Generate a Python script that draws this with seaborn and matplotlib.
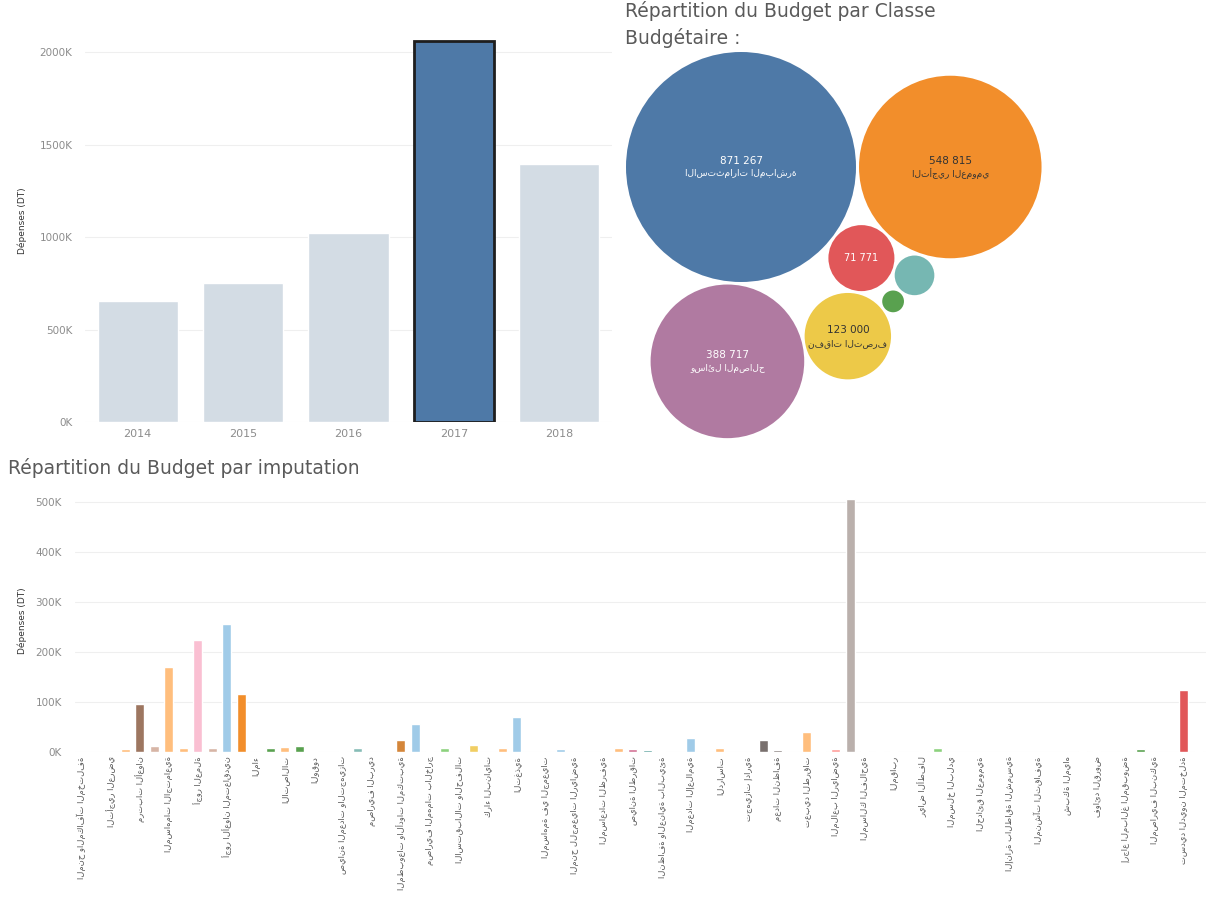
import numpy as np
import pandas as pd
import seaborn as sns
import matplotlib
matplotlib.use("Agg")
from matplotlib import pyplot as plt
from itertools import combinations

# --- data -------------------------------------------------------------
annees = ["2014", "2015", "2016", "2017", "2018"]
depenses_annee = [654000, 751000, 1022000, 2062000, 1393000]
annee_selection = "2017"

classes = ["الاستثمارات المباشرة", "التأجير العمومي", "وسائل المصالح", "نفقات التصرف",
           "فوائد الدين", "التدخل العمومي", "نفقات التنمية"]
montants_classe = [871267, 548815, 388717, 123000, 71771, 25900, 7800]

imputations = [
    "المنح والمكافآت المختلفة", "منح الإنتاج", "التأجير العرضي", "الأجور والمنح للقارين",
    "مرتبات الأعوان", "منح التنقل", "المساهمات الاجتماعية", "منح الساعات الإضافية",
    "أجور العملة", "منح الكلفة", "أجور الأعوان المتعاقدين", "التأجير العمومي للأعوان",
    "الماء", "الكهرباء والغاز", "الاتصالات", "الإعلامية", "الوقود", "اقتناء الأثاث",
    "صيانة المعدات والتجهيزات", "صيانة البنايات", "مصاريف البريد", "الإشهار والإعلانات",
    "المطبوعات والأدوات المكتبية", "الملابس المهنية", "مصاريف المهمات بالخارج", "مصاريف التكوين",
    "الاستقبالات والحفلات", "التأمين على السيارات", "كراء البنايات", "مصاريف التقاضي",
    "التغذية", "المعدات الطبية", "المساهمة في الجمعيات", "التدخلات الاجتماعية",
    "المنح للجمعيات الرياضية", "منح الطلبة", "المساعدات الظرفية", "مساهمة في ميزانية المؤسسات",
    "صيانة الطرقات", "التنوير العمومي", "النظافة والعناية بالبيئة", "المناطق الخضراء",
    "المعدات الإعلامية", "البرمجيات", "الدراسات", "التهيئة", "تجهيزات إدارية", "وسائل النقل",
    "معدات النظافة", "بناء مقرات إدارية", "تعبيد الطرقات", "شبكات التطهير", "الملاعب الرياضية",
    "مشاريع التنمية المحلية", "المسالك الفلاحية", "الأسواق البلدية", "المقابر", "دور الشباب",
    "رياض الأطفال", "المكتبات العمومية", "المسلخ البلدي", "المستودع البلدي", "الحدائق العمومية",
    "الأرصفة", "الإنارة بالطاقة الشمسية", "تهذيب الأحياء الشعبية", "المنشآت الثقافية",
    "المنشآت الرياضية", "شبكة المياه", "التجهيزات الجماعية", "فوائد القروض", "أقساط القروض",
    "إرجاع المبالغ المقبوضة", "النفقات الطارئة", "المصاريف البنكية", "مصاريف التسجيل",
    "تسديد الديون المتخلدة", "نفقات مختلفة",
]
depenses_imputation = [
    1000, 500, 1000, 6000, 96000, 12000, 170000, 9000, 224000, 9000,
    256000, 116000, 1000, 8000, 10000, 12000, 2000, 1000, 2000, 9000,
    1000, 2000, 25000, 56000, 3000, 8000, 1500, 15000, 1000, 9000,
    70000, 300, 300, 7000, 300, 300, 300, 9000, 6000, 5000,
    2000, 300, 28000, 500, 8000, 300, 500, 24000, 5000, 500,
    41000, 1500, 6000, 506000, 3000, 1500, 1500, 500, 2000, 9000,
    300, 500, 300, 1000, 1000, 300, 300, 500, 300, 3000,
    1500, 300, 300, 7000, 300, 500, 124000, 2000,
]

# --- styles -------------------------------------------------------------
W, H = 1216, 909
GRIS = "#8C8C8C"
TITRE = "#5A5A5A"
couleurs_classe = ["#4E79A7", "#F28E2B", "#B07AA1", "#EDC948", "#E15759", "#76B7B2", "#59A14F"]
texte_classe = ["white", "#333333", "white", "#333333", "white", "white", "white"]
couleurs_imputation = [
    "#BAB0AC", "#D7B5A6", "#FFBE7D", "#FFBE7D", "#9D7660", "#D7B5A6", "#FFBE7D", "#FFBE7D", "#FABFD2", "#D7B5A6",
    "#A0CBE8", "#F28E2B", "#8CD17D", "#59A14F", "#FFBE7D", "#59A14F", "#BAB0AC", "#BAB0AC", "#A0CBE8", "#86BCB6",
    "#FABFD2", "#BAB0AC", "#D4863A", "#A0CBE8", "#8CD17D", "#8CD17D", "#BAB0AC", "#F1CE63", "#BAB0AC", "#FFBE7D",
    "#A0CBE8", "#D7B5A6", "#FABFD2", "#A0CBE8", "#BAB0AC", "#8CD17D", "#D7B5A6", "#FFBE7D", "#D37295", "#499894",
    "#FFBE7D", "#BAB0AC", "#A0CBE8", "#BAB0AC", "#FFBE7D", "#D7B5A6", "#BAB0AC", "#79706E", "#79706E", "#D7B5A6",
    "#FFBE7D", "#8CD17D", "#FF9D9A", "#BAB0AC", "#59A14F", "#BAB0AC", "#FFBE7D", "#D7B5A6", "#FFBE7D", "#8CD17D",
    "#BAB0AC", "#D7B5A6", "#BAB0AC", "#BAB0AC", "#BAB0AC", "#D7B5A6", "#BAB0AC", "#BAB0AC", "#D7B5A6", "#F28E2B",
    "#FFBE7D", "#BAB0AC", "#D7B5A6", "#59A14F", "#BAB0AC", "#D7B5A6", "#E15759", "#FFBE7D",
]

# bubble layout rules: placement order and which bubbles each one leans on
ordre_pose = [0, 1, 2, 4, 3, 5, 6]
appuis = {0: None, 1: ([0], 0.0), 2: ([0], 94.0), 4: ([0, 1], None),
          3: ([4, 2], None), 5: ([1, 4], None), 6: ([4, 5, 3], None)}

sns.set_theme(style="white")
plt.rcParams["font.family"] = ["DejaVu Sans"]

fig = plt.figure(figsize=(W / 100, H / 100), dpi=100)


def kfmt(v):
    return f"{int(v // 1000)}K"


def style_axe(ax):
    sns.despine(ax=ax, left=True, bottom=True)
    ax.yaxis.grid(True, color="#EFEFEF", lw=0.8)
    ax.set_axisbelow(True)
    ax.tick_params(length=0, labelsize=7.5, labelcolor=GRIS)


# --- dépenses par année ---------------------------------------------------
ax1 = fig.add_axes([85 / W, 1 - 422 / H, 527 / W, 402 / H])
pal_annee = {a: ("#4E79A7" if a == annee_selection else "#D3DCE4") for a in annees}
sns.barplot(x=annees, y=depenses_annee, hue=annees, palette=pal_annee, width=0.76,
            saturation=1, legend=False, ax=ax1)
for a, p in zip(annees, ax1.patches):
    if a == annee_selection:
        p.set_edgecolor("#1E1E1E")
        p.set_linewidth(2)
ax1.set_ylim(0, 2173000)
t1 = np.arange(0, 2000001, 500000)
ax1.set_yticks(t1, [kfmt(v) for v in t1])
style_axe(ax1)
ax1.tick_params(axis="x", labelsize=8, pad=5)
ax1.tick_params(axis="y", pad=9)
ax1.set_xlabel("")
ax1.set_ylabel("Dépenses (DT)", fontsize=6.5, color="#333333")
ax1.yaxis.set_label_coords(-(85 - 27) / 527, 0.5)


# --- répartition par classe (packed bubbles) --------------------------------
def pack_circles(radii, ordre, regles, gap=3.0):
    pos = {}
    for k in ordre:
        r = radii[k]
        regle = regles[k]
        if regle is None:
            pos[k] = np.array([0.0, 0.0])
            continue
        anc, ang = regle
        if ang is not None:
            a = anc[0]
            d = radii[a] + r + gap
            t = np.radians(ang)
            pos[k] = pos[a] + d * np.array([np.cos(t), np.sin(t)])
            continue
        cands = []
        for i, j in combinations(anc, 2):
            di, dj = radii[i] + r + gap, radii[j] + r + gap
            v = pos[j] - pos[i]
            D = np.hypot(*v)
            a = (di ** 2 - dj ** 2 + D ** 2) / (2 * D)
            h = np.sqrt(max(di ** 2 - a ** 2, 0))
            u = v / D
            base = pos[i] + a * u
            perp = np.array([-u[1], u[0]])
            cands += [base + h * perp, base - h * perp]
        best = None
        for c in cands:
            if any(np.hypot(*(c - pos[m])) < radii[m] + r + gap - 1e-6 for m in pos):
                continue
            ecart = sum(abs(np.hypot(*(c - pos[m])) - (radii[m] + r + gap)) for m in anc)
            cle = (round(ecart, 1), -c[1])
            if best is None or cle < best[0]:
                best = (cle, c)
        pos[k] = best[1]
    return np.array([pos[k] for k in range(len(radii))])


R_MAX = 115.0
vmax = max(montants_classe)
rayons = [R_MAX * np.sqrt(v / vmax) for v in montants_classe]
centres = pack_circles(rayons, ordre_pose, appuis)
rr = np.array(rayons)
centres[:, 0] += 16 - (centres[:, 0] - rr).min()
centres[:, 1] += 2 - (centres[:, 1] - rr).min()

ax2 = fig.add_axes([610 / W, 1 - 445 / H, 606 / W, 395 / H])
bulles = pd.DataFrame({"classe": classes, "montant": montants_classe,
                       "x": centres[:, 0], "y": centres[:, 1]})
smax = (2 * R_MAX * 0.72) ** 2
sns.scatterplot(data=bulles, x="x", y="y", hue="classe", palette=couleurs_classe,
                size="montant", sizes=(smax * min(montants_classe) / vmax, smax),
                linewidth=0, alpha=1, legend=False, ax=ax2)
ax2.set_xlim(0, 606)
ax2.set_ylim(395, 0)
ax2.axis("off")
for (c, v, x, y), r, tc in zip(bulles[["classe", "montant", "x", "y"]].values, rayons, texte_classe):
    lab = f"{v:,}".replace(",", " ")
    if r > 40:
        ax2.text(x, y - 6, lab, ha="center", va="center", fontsize=7.5, color=tc)
        ax2.text(x, y + 7, c, ha="center", va="center", fontsize=6.5, color=tc)
    elif r > 25:
        ax2.text(x, y, lab, ha="center", va="center", fontsize=7, color=tc)

fig.text(625 / W, 1 - 11 / H, "Répartition du Budget par Classe", fontsize=13.5,
         color=TITRE, va="center")
fig.text(625 / W, 1 - 38 / H, "Budgétaire :", fontsize=13.5, color=TITRE, va="center")

# --- répartition par imputation ----------------------------------------------
fig.text(8 / W, 1 - 468 / H, "Répartition du Budget par imputation", fontsize=13.5,
         color=TITRE, va="center")
ax3 = fig.add_axes([74.5 / W, 1 - 752 / H, 1131 / W, 262 / H])
sns.barplot(x=imputations, y=depenses_imputation, hue=imputations, order=imputations,
            palette=couleurs_imputation, width=0.62, saturation=1, legend=False, ax=ax3)
ax3.set_ylim(0, 524000)
t3 = np.arange(0, 500001, 100000)
ax3.set_yticks(t3, [kfmt(v) for v in t3])
style_axe(ax3)
ax3.tick_params(axis="y", pad=9)
pos_x = np.arange(0, len(imputations), 2)
ax3.set_xticks(pos_x, [imputations[i] for i in pos_x], rotation=90, fontsize=6)
ax3.tick_params(axis="x", pad=3, labelcolor="#555555")
ax3.set_xlabel("")
ax3.set_ylabel("Dépenses (DT)", fontsize=6.5, color="#333333")
ax3.yaxis.set_label_coords(-(74.5 - 27) / 1131, 0.5)

fig.savefig("out.png", dpi=100, facecolor="white")
